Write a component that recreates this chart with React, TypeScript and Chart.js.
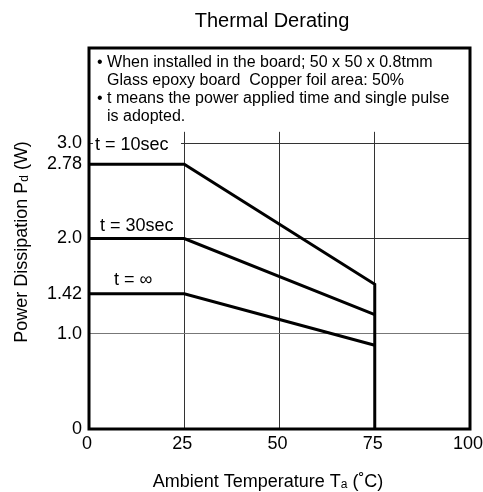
import React, { useEffect, useRef } from "react";
import { Chart, registerables } from "chart.js";

Chart.register(...registerables);

const FONT = "'Liberation Sans', Arial, Helvetica, sans-serif";

// Ambient temperature (°C) / power dissipation (W) for each curve
const temps10 = [0, 25, 75, 75];
const power10 = [2.78, 2.78, 1.52, 0];
const temps30 = [0, 25, 75];
const power30 = [2.0, 2.0, 1.2];
const tempsInf = [0, 25, 75];
const powerInf = [1.42, 1.42, 0.88];

const seriesLabels = ["t = 10sec", "t = 30sec", "t = ∞"];

const xTickValues = [0, 25, 50, 75, 100];
const yTickValues = [0, 1, 1.42, 2, 2.78, 3];
const yTickLabels = ["0", "1.0", "1.42", "2.0", "2.78", "3.0"];

const chartTitle = "Thermal Derating";
const noteLines = [
  { text: "• When installed in the board; 50 x 50 x 0.8tmm", bullet: true },
  { text: "Glass epoxy board  Copper foil area: 50%", bullet: false },
  { text: "• t means the power applied time and single pulse", bullet: true },
  { text: "is adopted.", bullet: false },
];

type Part = { text: string; size: number; dy?: number };

function drawRich(ctx: CanvasRenderingContext2D, parts: Part[], cx: number, baseline: number) {
  const widths = parts.map((p) => {
    ctx.font = `${p.size}px ${FONT}`;
    return ctx.measureText(p.text).width;
  });
  const total = widths.reduce((a, b) => a + b, 0);
  let x = cx - total / 2;
  ctx.textAlign = "left";
  ctx.textBaseline = "alphabetic";
  parts.forEach((p, i) => {
    ctx.font = `${p.size}px ${FONT}`;
    ctx.fillText(p.text, x, baseline + (p.dy || 0));
    x += widths[i];
  });
}

const overlayPlugin = {
  id: "overlay",
  beforeDatasetsDraw(chart: any) {
    const { ctx, chartArea: a, scales } = chart;
    const y = scales.y;
    ctx.save();
    ctx.fillStyle = "#fff";
    const gTop = y.getPixelForValue(3.12);
    ctx.fillRect(a.left, a.top, a.right - a.left, gTop - a.top);
    // background behind the t = 10sec label
    const y3 = y.getPixelForValue(3);
    ctx.fillRect(a.left + 4, y3 - 9, 88, 18);
    ctx.restore();
  },
  afterDatasetsDraw(chart: any) {
    const { ctx, chartArea: a, scales } = chart;
    const x = scales.x;
    const y = scales.y;
    ctx.save();
    // frame
    ctx.strokeStyle = "#000";
    ctx.lineWidth = 3;
    ctx.strokeRect(a.left, a.top, a.right - a.left, a.bottom - a.top);

    // notes
    ctx.fillStyle = "#000";
    ctx.font = `16px ${FONT}`;
    ctx.textAlign = "left";
    ctx.textBaseline = "alphabetic";
    noteLines.forEach((ln, i) => {
      ctx.fillText(ln.text, ln.bullet ? a.left + 8 : a.left + 18, a.top + 19 + i * 18);
    });

    // curve labels
    ctx.font = `18px ${FONT}`;
    ctx.fillText(seriesLabels[0], x.getPixelForValue(0) + 6, y.getPixelForValue(3) + 6.5);
    ctx.fillText(seriesLabels[1], x.getPixelForValue(0) + 11, y.getPixelForValue(power30[0]) - 8);
    ctx.fillText(seriesLabels[2], x.getPixelForValue(0) + 25, y.getPixelForValue(powerInf[0]) - 9);
    ctx.restore();
  },
  afterDraw(chart: any) {
    const { ctx } = chart;
    ctx.save();
    ctx.fillStyle = "#000";
    ctx.font = `20px ${FONT}`;
    ctx.textAlign = "center";
    ctx.textBaseline = "alphabetic";
    ctx.fillText(chartTitle, 272, 27);

    drawRich(
      ctx,
      [
        { text: "Ambient Temperature T", size: 18 },
        { text: "a", size: 12, dy: 1 },
        { text: " (˚C)", size: 18 },
      ],
      268,
      487
    );

    ctx.translate(27, 242);
    ctx.rotate(-Math.PI / 2);
    drawRich(
      ctx,
      [
        { text: "Power Dissipation P", size: 18 },
        { text: "d", size: 12, dy: 1 },
        { text: " (W)", size: 18 },
      ],
      0,
      0
    );
    ctx.restore();
  },
};

export default function App() {
  const ref = useRef<HTMLCanvasElement | null>(null);

  useEffect(() => {
    if (!ref.current) return;
    const mk = (xs: number[], ys: number[]) => xs.map((v, i) => ({ x: v, y: ys[i] }));
    const lineStyle = {
      showLine: true,
      borderColor: "#000",
      backgroundColor: "#000",
      borderWidth: 3,
      pointRadius: 0,
      pointHoverRadius: 0,
      borderJoinStyle: "miter" as const,
      tension: 0,
    };
    const chart = new Chart(ref.current, {
      type: "scatter",
      data: {
        datasets: [
          { label: seriesLabels[0], data: mk(temps10, power10), ...lineStyle },
          { label: seriesLabels[1], data: mk(temps30, power30), ...lineStyle },
          { label: seriesLabels[2], data: mk(tempsInf, powerInf), ...lineStyle },
        ],
      },
      options: {
        animation: false,
        responsive: true,
        maintainAspectRatio: false,
        layout: { padding: { left: 0, top: 48, right: 0, bottom: 0 } },
        plugins: {
          legend: { display: false },
          tooltip: { enabled: false },
          title: { display: false },
        },
        scales: {
          x: {
            type: "linear",
            min: 0,
            max: 100,
            afterBuildTicks: (s: any) => {
              s.ticks = xTickValues.map((v) => ({ value: v }));
            },
            afterFit: (s: any) => {
              s.height = 63;
              s.paddingRight = 13;
            },
            border: { display: false },
            grid: {
              drawTicks: false,
              lineWidth: 1,
              color: (c: any) =>
                c.tick && (c.tick.value === 0 || c.tick.value === 100) ? "rgba(0,0,0,0)" : "#333",
            },
            ticks: {
              color: "#000",
              font: { family: FONT, size: 18 },
              padding: 4,
              labelOffset: -2,
              maxRotation: 0,
              autoSkip: false,
              callback: (v: any) => String(v),
            },
          },
          y: {
            type: "linear",
            min: 0,
            max: 4,
            afterBuildTicks: (s: any) => {
              s.ticks = yTickValues.map((v) => ({ value: v }));
            },
            afterFit: (s: any) => {
              s.width = 89;
            },
            border: { display: false },
            grid: {
              drawTicks: false,
              lineWidth: 1,
              color: (c: any) => {
                const v = c.tick ? c.tick.value : -1;
                if (v === 1) return "#777";
                if (v === 2 || v === 3) return "#333";
                return "rgba(0,0,0,0)";
              },
            },
            ticks: {
              color: "#000",
              font: { family: FONT, size: 18 },
              padding: 7,
              autoSkip: false,
              callback: (v: any) => {
                const i = yTickValues.indexOf(Number(v));
                return i >= 0 ? yTickLabels[i] : "";
              },
            },
          },
        },
      },
      plugins: [overlayPlugin],
    });
    return () => chart.destroy();
  }, []);

  return (
    <div style={{ position: "fixed", left: 0, top: 0, width: 483, height: 492, background: "#fff" }}>
      <canvas ref={ref} />
    </div>
  );
}
